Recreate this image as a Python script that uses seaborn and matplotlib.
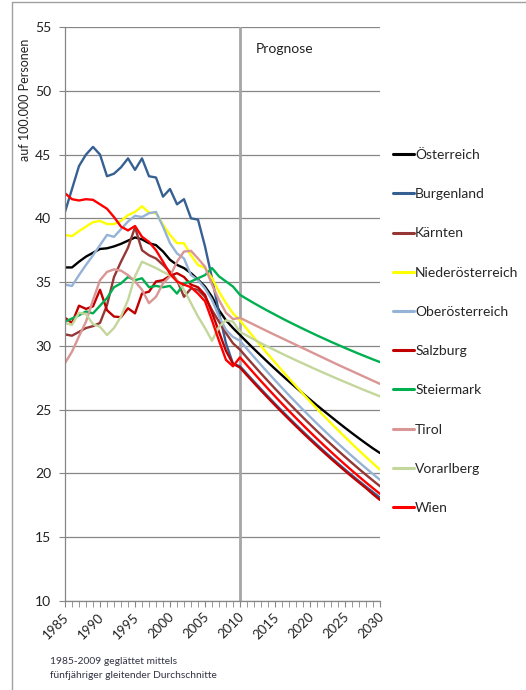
import matplotlib
matplotlib.use('Agg')
import matplotlib.pyplot as plt
import matplotlib.transforms as mtransforms
import seaborn as sns
import pandas as pd
from matplotlib.ticker import MultipleLocator
from matplotlib.lines import Line2D

# Jahre 1985-2009 geglaettet, ab 2010 Prognose
years = list(range(1985, 2031))

oesterreich = [36.15, 36.15, 36.6, 37.0, 37.3, 37.6, 37.65, 37.8, 38.0, 38.25,
               38.5, 38.35, 38.05, 37.9, 37.4, 36.75, 36.35, 36.1, 35.7, 35.2,
               34.65, 33.85, 32.8, 32.0, 31.4,
               30.85, 30.3, 29.76, 29.23, 28.71, 28.2, 27.7, 27.21, 26.73, 26.26,
               25.8, 25.34, 24.89, 24.45, 24.01, 23.58, 23.16, 22.75, 22.35, 21.96, 21.6]
burgenland = [40.5, 42.3, 44.1, 45.0, 45.6, 45.0, 43.3, 43.5, 44.0, 44.7,
              43.8, 44.7, 43.3, 43.2, 41.7, 42.3, 41.1, 41.5, 40.0, 39.9,
              37.8, 35.3, 32.6, 30.2, 28.6,
              28.4, 27.8, 27.2, 26.61, 26.03, 25.46, 24.9, 24.35, 23.81, 23.28,
              22.76, 22.25, 21.75, 21.26, 20.78, 20.31, 19.85, 19.4, 18.96, 18.53, 18.1]
kaernten = [30.9, 30.8, 31.1, 31.4, 31.55, 31.8, 33.2, 35.4, 36.6, 37.7,
            39.3, 37.5, 37.1, 36.85, 36.35, 35.8, 35.15, 33.85, 34.5, 34.4,
            33.85, 32.8, 31.9, 31.0, 30.2,
            29.7, 29.07, 28.45, 27.84, 27.24, 26.65, 26.07, 25.5, 24.94, 24.39,
            23.85, 23.32, 22.8, 22.29, 21.79, 21.3, 20.82, 20.35, 19.89, 19.44, 19.0]
niederoesterreich = [38.7, 38.6, 39.0, 39.35, 39.7, 39.8, 39.55, 39.55, 39.8, 40.25,
                     40.5, 40.95, 40.45, 40.4, 39.5, 38.7, 38.05, 38.05, 37.1, 36.35,
                     36.1, 35.3, 34.25, 33.35, 32.55,
                     32.0, 31.32, 30.65, 29.99, 29.34, 28.7, 28.07, 27.45, 26.84, 26.24,
                     25.65, 25.07, 24.5, 23.94, 23.39, 22.85, 22.32, 21.8, 21.29, 20.79, 20.3]
oberoesterreich = [34.8, 34.7, 35.55, 36.35, 37.1, 37.9, 38.7, 38.55, 39.15, 39.75,
                   40.2, 40.1, 40.4, 40.5, 39.35, 38.05, 37.25, 36.85, 35.55, 35.15,
                   34.5, 33.6, 32.3, 31.25, 30.7,
                   30.4, 29.76, 29.13, 28.51, 27.9, 27.3, 26.71, 26.13, 25.56, 25.0,
                   24.45, 23.91, 23.38, 22.86, 22.35, 21.85, 21.36, 20.88, 20.41, 19.95, 19.5]
salzburg = [32.2, 31.8, 33.15, 32.9, 33.1, 34.4, 32.8, 32.3, 32.25, 32.95,
            32.55, 34.1, 34.25, 35.05, 35.15, 35.5, 35.7, 35.4, 34.8, 34.6,
            34.0, 32.6, 31.1, 29.6, 28.6,
            28.3, 27.69, 27.09, 26.5, 25.92, 25.35, 24.79, 24.24, 23.7, 23.17,
            22.65, 22.14, 21.64, 21.15, 20.67, 20.2, 19.74, 19.29, 18.85, 18.37, 17.92]
steiermark = [31.9, 32.15, 32.4, 32.7, 32.55, 33.15, 33.75, 34.6, 34.9, 35.4,
              35.15, 35.3, 34.6, 34.7, 34.6, 34.7, 34.1, 34.9, 35.05, 35.3,
              35.55, 36.1, 35.45, 35.05, 34.65,
              34.0, 33.67, 33.35, 33.04, 32.74, 32.45, 32.16, 31.88, 31.61, 31.34,
              31.08, 30.82, 30.57, 30.32, 30.08, 29.84, 29.61, 29.38, 29.16, 28.94, 28.73]
tirol = [28.65, 29.55, 30.75, 31.9, 33.6, 35.15, 35.8, 36.0, 35.9, 35.55,
         35.05, 34.4, 33.35, 33.85, 34.9, 35.45, 36.6, 37.4, 37.45, 36.85,
         36.2, 34.8, 33.6, 32.6, 32.1,
         32.2, 31.93, 31.66, 31.39, 31.12, 30.86, 30.6, 30.34, 30.08, 29.82,
         29.56, 29.3, 29.04, 28.78, 28.52, 28.27, 28.02, 27.77, 27.52, 27.27, 27.02]
vorarlberg = [31.8, 31.65, 32.6, 32.5, 31.7, 31.5, 30.85, 31.4, 32.3, 33.6,
              35.45, 36.6, 36.35, 36.1, 35.8, 35.55, 35.15, 34.4, 33.35, 32.3,
              31.4, 30.4, 31.5, 32.0, 31.9,
              31.1, 30.8, 30.5, 30.21, 29.93, 29.66, 29.39, 29.13, 28.87, 28.62,
              28.37, 28.12, 27.88, 27.64, 27.4, 27.17, 26.94, 26.71, 26.48, 26.26, 26.04]
wien = [41.97, 41.5, 41.4, 41.5, 41.45, 41.1, 40.75, 40.1, 39.35, 39.05,
        39.4, 38.55, 38.15, 37.5, 36.6, 35.65, 35.05, 34.8, 34.6, 34.1,
        33.5, 32.0, 30.4, 28.9, 28.4,
        29.1, 28.47, 27.85, 27.24, 26.64, 26.05, 25.47, 24.9, 24.34, 23.79,
        23.25, 22.72, 22.2, 21.69, 21.19, 20.7, 20.22, 19.75, 19.29, 18.84, 18.4]

regions = ['Österreich', 'Burgenland', 'Kärnten', 'Niederösterreich', 'Oberösterreich',
           'Salzburg', 'Steiermark', 'Tirol', 'Vorarlberg', 'Wien']
series = [oesterreich, burgenland, kaernten, niederoesterreich, oberoesterreich,
          salzburg, steiermark, tirol, vorarlberg, wien]
colors = ['#000000', '#376092', '#953735', '#FFFF00', '#95B3D7',
          '#C00000', '#00B050', '#D99694', '#C3D69B', '#FF0000']

df = pd.concat([pd.DataFrame({'Jahr': years, 'Wert': vals, 'Region': name})
                for name, vals in zip(regions, series)], ignore_index=True)

sns.set_style('white')
plt.rcParams['font.family'] = ['Lato', 'DejaVu Sans']

fig = plt.figure(figsize=(5.26, 6.9), dpi=100)
ax = fig.add_axes([65 / 526, 89 / 690, 315 / 526, 574 / 690])

ax.axvline(2010, color='#A6A6A6', lw=2, zorder=1)
sns.lineplot(data=df, x='Jahr', y='Wert', hue='Region', hue_order=regions,
             palette=colors, linewidth=1.7, estimator=None, ax=ax, zorder=2)

ax.set_xlim(1985, 2030)
ax.set_ylim(10, 55)
ax.yaxis.set_major_locator(MultipleLocator(5))
ax.xaxis.set_major_locator(MultipleLocator(5))
ax.xaxis.set_minor_locator(MultipleLocator(1))
ax.yaxis.grid(True, color='#868686', lw=0.9)
ax.set_axisbelow(True)
for side in ['top', 'right']:
    ax.spines[side].set_visible(False)
for side in ['left', 'bottom']:
    ax.spines[side].set_color('#868686')
    ax.spines[side].set_linewidth(0.9)

ax.tick_params(axis='y', which='major', direction='out', length=4, color='#868686',
               labelsize=10, labelcolor='#222222', pad=6, left=True)
ax.tick_params(axis='x', which='both', direction='out', length=4, color='#868686',
               bottom=True)
ax.tick_params(axis='x', which='major', labelsize=9.5, labelcolor='#222222', pad=3)
ax.set_xticks(range(1985, 2031, 5))
ax.set_xticklabels([str(y) for y in range(1985, 2031, 5)], rotation=45,
                   ha='right', rotation_mode='anchor')
shift = mtransforms.ScaledTranslation(-2 / 100, 0, fig.dpi_scale_trans)
for lab in ax.get_xticklabels():
    lab.set_transform(lab.get_transform() + shift)

ax.set_xlabel('')
ax.set_ylabel('auf 100.000 Personen', fontsize=9, color='#222222')
ax.yaxis.set_label_coords(-0.108, 0.873)

ax.text(2012.3, 53.3, 'Prognose', fontsize=10, color='#222222', va='center', ha='left')

handles = [Line2D([], [], color=c, lw=2.2) for c in colors]
ax.legend(handles, regions, loc='upper left', bbox_to_anchor=(393 / 526, 1 - 149 / 690),
          bbox_transform=fig.transFigure, frameon=False, fontsize=10,
          handlelength=1.5, handletextpad=0.1, labelspacing=1.96,
          borderpad=0, borderaxespad=0)

fig.text(50 / 526, 1 - 661 / 690, '1985-2009 geglättet mittels', fontsize=7.4,
         color='#333344', va='center')
fig.text(50 / 526, 1 - 676 / 690, 'fünfjähriger gleitender Durchschnitte', fontsize=7.4,
         color='#333344', va='center')

# Rahmen links und oben
fig.add_artist(Line2D([12 / 526, 12 / 526], [0, 1 - 2 / 690], transform=fig.transFigure,
                      color='#A0A0A0', lw=1))
fig.add_artist(Line2D([12 / 526, 1], [1 - 2 / 690, 1 - 2 / 690], transform=fig.transFigure,
                      color='#A0A0A0', lw=1))

fig.savefig('out.png', dpi=100)
